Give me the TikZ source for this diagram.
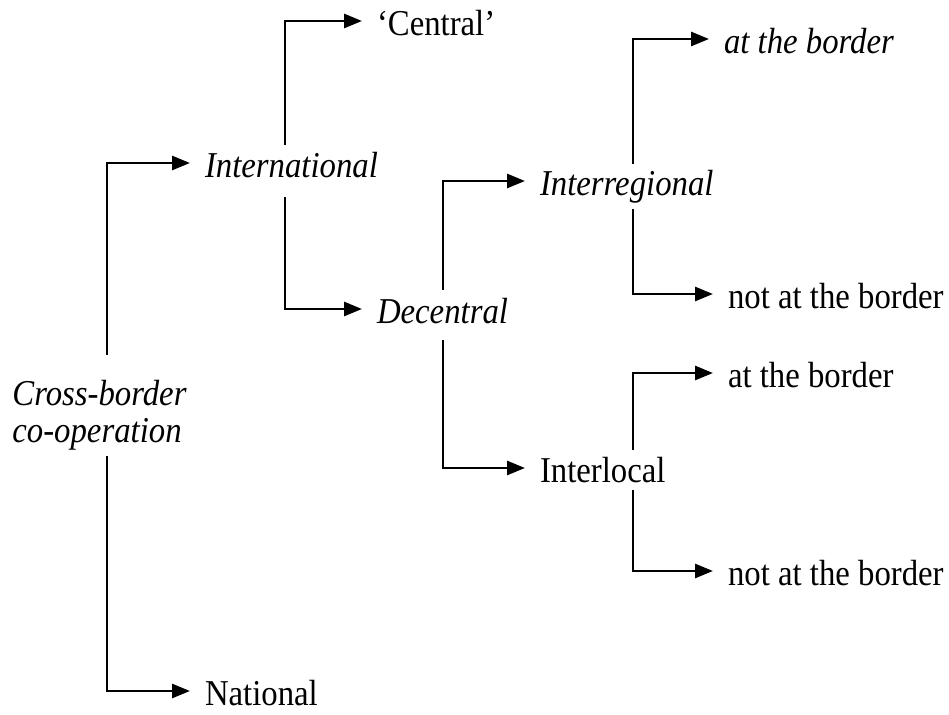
\documentclass[tikz,border=0pt]{standalone}
\usepackage{fontspec}
\setmainfont{Liberation Serif}[FakeStretch=0.9]
\usetikzlibrary{arrows.meta}
\begin{document}
\begin{tikzpicture}[x=0.5pt,y=-0.5pt,
  lbl/.style={anchor=west,inner sep=0pt,outer sep=0pt,font=\fontsize{18.2pt}{18.5pt}\selectfont,text height=15.3pt,text depth=0.5pt},
  ilbl/.style={lbl,font=\fontsize{18.2pt}{18.5pt}\selectfont\itshape},
  arr/.style={line width=1.4pt,-{Triangle[length=9pt,width=7pt]},shorten >=7.5pt}]
\useasboundingbox (0,0) rectangle (949,715);
% nodes
\node[anchor=west,inner sep=0pt,align=left,font=\fontsize{18.2pt}{18.5pt}\selectfont\itshape] (cbc) at (12,415) {Cross-border\\co-operation};
\node[ilbl] (intl) at (205,163) {International};
\node[lbl] (natl) at (205,691) {National};
\node[lbl] (central) at (377,21) {‘Central’};
\node[ilbl] (decen) at (377,309) {Decentral};
\node[ilbl] (interreg) at (540,181) {Interregional};
\node[lbl] (interloc) at (540,468) {Interlocal};
\node[ilbl] (at1) at (724,39) {at the border};
\node[lbl] (nat1) at (728,294) {not at the border};
\node[lbl] (at2) at (728,373) {at the border};
\node[lbl] (nat2) at (728,571) {not at the border};
% stem origins
\coordinate (ctop) at (107,355);
\coordinate (cbot) at (107,456);
\coordinate (itop) at (285,145);
\coordinate (ibot) at (285,197);
\coordinate (dtop) at (443,290);
\coordinate (dbot) at (443,340);
\coordinate (rtop) at (633,164);
\coordinate (rbot) at (633,209);
\coordinate (ltop) at (633,450);
\coordinate (lbot) at (633,490);
% connectors
\draw[arr] (ctop) |- (intl.west);
\draw[arr] (cbot) |- (natl.west);
\draw[arr] (itop) |- (central.west);
\draw[arr] (ibot) |- (decen.west);
\draw[arr] (dtop) |- (interreg.west);
\draw[arr] (dbot) |- (interloc.west);
\draw[arr] (rtop) |- (at1.west);
\draw[arr] (rbot) |- (nat1.west);
\draw[arr] (ltop) |- (at2.west);
\draw[arr] (lbot) |- (nat2.west);
\end{tikzpicture}
\end{document}
